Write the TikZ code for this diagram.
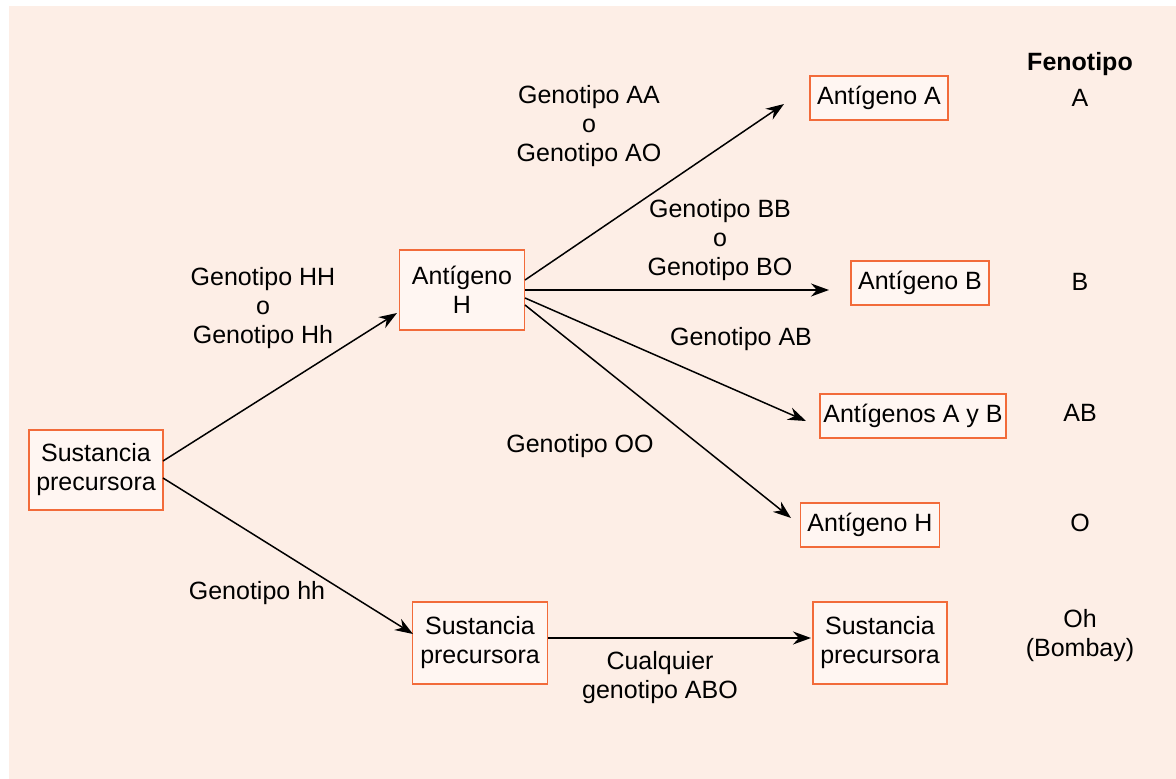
\documentclass[tikz,border=0pt]{standalone}
\usepackage{fontspec}
\setmainfont{Liberation Sans}
\usetikzlibrary{arrows.meta}
\definecolor{bgpeach}{HTML}{FDEEE6}
\definecolor{boxfill}{HTML}{FFF6F2}
\definecolor{boxline}{HTML}{F26B3A}
\begin{document}
\begin{tikzpicture}[x=1pt,y=-1pt,
  every node/.style={font=\fontsize{25}{29}\selectfont, align=center, inner sep=0pt},
  gbox/.style={draw=boxline, fill=boxfill, line width=1.8pt, inner xsep=7pt, minimum height=44pt},
  bigbox/.style={gbox, minimum height=80pt},
  lbl/.style={},
  arr/.style={-{Stealth[length=18pt,width=13pt]}, line width=1.5pt, black}]
\useasboundingbox (0,0) rectangle (1176,779);
\fill[white] (0,0) rectangle (1176,779);
\fill[bgpeach] (9,6) rectangle (1176,779);

% nodes
\node[bigbox, minimum width=134pt] (sp1) at (96,470) {Sustancia\\precursora};
\node[bigbox, minimum width=125pt] (ah) at (462,290) {Antígeno\\H};
\node[gbox, minimum width=138pt] (aa) at (879,98) {Antígeno A};
\node[gbox, minimum width=138pt] (ab) at (920,283) {Antígeno B};
\node[gbox, inner xsep=3.5pt, minimum width=186pt] (aab) at (913,416) {Antígenos A y B};
\node[gbox, minimum width=138pt] (ahr) at (870,525) {Antígeno H};
\node[bigbox, minimum width=135pt, minimum height=82pt] (sp2) at (480,643) {Sustancia\\precursora};
\node[bigbox, minimum width=133pt, minimum height=82pt] (sp3) at (880,643) {Sustancia\\precursora};

% arrow end coordinates
\coordinate (s1a) at (163,461);
\coordinate (s1b) at (163,478);
\coordinate (e1) at (397,313);
\coordinate (e2) at (413,634);
\coordinate (h1) at (525,280);
\coordinate (h2) at (525,290);
\coordinate (h3) at (525,298);
\coordinate (h4) at (525,305);
\coordinate (ta) at (784,104);
\coordinate (tb) at (829,290);
\coordinate (tab) at (806,421);
\coordinate (th) at (791,518);
\coordinate (s2a) at (548,638);
\coordinate (t3) at (811,638);

\draw[arr] (s1a) -- (e1);
\draw[arr] (s1b) -- (e2);
\draw[arr] (h1) -- (ta);
\draw[arr] (h2) -- (tb);
\draw[arr] (h3) -- (tab);
\draw[arr] (h4) -- (th);
\draw[arr] (s2a) -- (t3);

% labels
\node[lbl] (l1) at (263,308) {Genotipo HH\\o\\Genotipo Hh};
\node[lbl] (l2) at (257,593) {Genotipo hh};
\node[lbl] (l3) at (589,126) {Genotipo AA\\o\\Genotipo AO};
\node[lbl] (l4) at (720,240) {Genotipo BB\\o\\Genotipo BO};
\node[lbl] (l5) at (741,339) {Genotipo AB};
\node[lbl] (l6) at (580,446) {Genotipo OO};
\node[lbl] (l7) at (660,678) {Cualquier\\genotipo ABO};

\node (fen) at (1080,64) {\textbf{Fenotipo}};
\node (pa) at (1080,98) {A};
\node (pb) at (1080,282) {B};
\node (pab) at (1080,413) {AB};
\node (po) at (1080,523) {O};
\node (poh) at (1080,636) {Oh\\(Bombay)};
\end{tikzpicture}
\end{document}
